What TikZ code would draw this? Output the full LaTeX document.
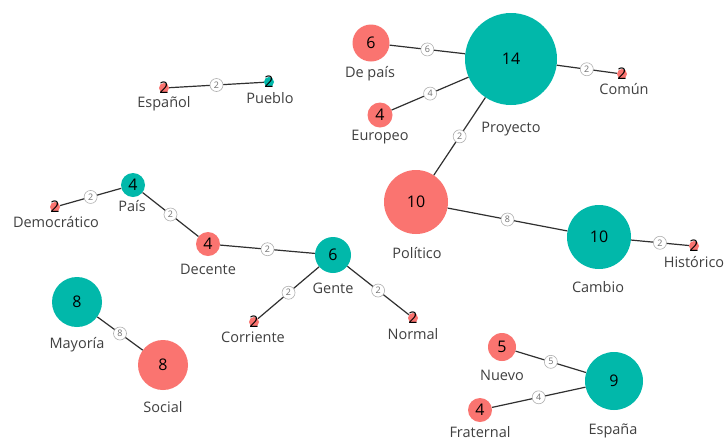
\documentclass[tikz,border=0pt]{standalone}
\usepackage{fontspec}
\setmainfont{Open Sans}
\definecolor{bubteal}{HTML}{01B8AA}
\definecolor{bubsalmon}{HTML}{FA7470}
\definecolor{wordgray}{HTML}{404040}
\definecolor{linkgray}{HTML}{303030}
\definecolor{badgeedge}{HTML}{B0B0B0}
\definecolor{badgetext}{HTML}{707070}
\begin{document}
\begin{tikzpicture}[x=1pt,y=-1pt,
  bubble/.style={circle, inner sep=0pt, minimum size=#1, draw=none},
  tb/.style={bubble=#1, fill=bubteal},
  sb/.style={bubble=#1, fill=bubsalmon},
  val/.style={label={[font=\fontsize{16}{18}\selectfont, text=black, inner sep=0pt]center:#1}},
  word/.style={text=wordgray, font=\fontsize{14.5}{16}\selectfont, inner sep=0pt},
  link/.style={draw=linkgray, line width=1.2pt},
  badge/.style={circle, draw=badgeedge, fill=white, line width=0.6pt, inner sep=0pt,
    minimum size=13pt, font=\fontsize{9}{10}\selectfont, text=badgetext}]
\fill[white] (0,0) rectangle (725,440);
\useasboundingbox (0,0) rectangle (725,440);

% bubbles
\node[tb=92, val=14] (proy)    at (511,59)  {};
\node[sb=37, val=6]  (depais)  at (371,43)  {};
\node[sb=25, val=4]  (euro)    at (380,115) {};
\node[sb=10, val=2]  (comun)   at (622,74)  {};
\node[sb=64, val=10] (polit)   at (416,202) {};
\node[tb=64, val=10] (cambio)  at (599,237) {};
\node[sb=10, val=2]  (hist)    at (694,246) {};
\node[sb=10, val=2]  (espanol) at (164,88)  {};
\node[tb=10, val=2]  (pueblo)  at (269,82)  {};
\node[sb=10, val=2]  (demo)    at (55,207)  {};
\node[tb=24, val=4]  (pais)    at (133,185) {};
\node[sb=24, val=4]  (decente) at (208,244) {};
\node[tb=36, val=6]  (gente)   at (333,255) {};
\node[sb=10, val=2]  (corr)    at (254,322) {};
\node[sb=10, val=2]  (normal)  at (413,318) {};
\node[tb=50, val=8]  (mayoria) at (77,302)  {};
\node[sb=50, val=8]  (social)  at (163,365) {};
\node[sb=28, val=5]  (nuevo)   at (502,347) {};
\node[sb=24, val=4]  (frat)    at (480,410) {};
\node[tb=58, val=9]  (espana)  at (614,381) {};

% word labels
\node[word] (wespanol) at (164,104) {Español};
\node[word] (wpueblo)  at (270,98)  {Pueblo};
\node[word] (wdepais)  at (370,74)  {De país};
\node[word] (weuro)    at (380,137) {Europeo};
\node[word] (wproy)    at (511,129) {Proyecto};
\node[word] (wcomun)   at (624,89)  {Común};
\node[word] (wpolit)   at (417,253) {Político};
\node[word] (wcambio)  at (598,287) {Cambio};
\node[word] (whist)    at (694,262) {Histórico};
\node[word] (wdemo)    at (56,222)  {Democrático};
\node[word] (wpais)    at (132,206) {País};
\node[word] (wdecente) at (208,269) {Decente};
\node[word] (wgente)   at (333,288) {Gente};
\node[word] (wcorr)    at (253,337) {Corriente};
\node[word] (wnormal)  at (413,334) {Normal};
\node[word] (wmayoria) at (77,345)  {Mayoría};
\node[word] (wsocial)  at (163,407) {Social};
\node[word] (wnuevo)   at (502,375) {Nuevo};
\node[word] (wfrat)    at (480,432) {Fraternal};
\node[word] (wespana)  at (613,431) {España};

% links with weights
\draw[link] (espanol) -- node[badge]{2} (pueblo);
\draw[link] (depais)  -- node[badge]{6} (proy);
\draw[link] (euro)    -- node[badge]{4} (proy);
\draw[link] (proy)    -- node[badge]{2} (comun);
\draw[link] (proy)    -- node[badge]{2} (polit);
\draw[link] (polit)   -- node[badge]{8} (cambio);
\draw[link] (cambio)  -- node[badge]{2} (hist);
\draw[link] (demo)    -- node[badge]{2} (pais);
\draw[link] (pais)    -- node[badge]{2} (decente);
\draw[link] (decente) -- node[badge]{2} (gente);
\draw[link] (gente)   -- node[badge]{2} (corr);
\draw[link] (gente)   -- node[badge]{2} (normal);
\draw[link] (mayoria) -- node[badge]{8} (social);
\draw[link] (nuevo)   -- node[badge]{5} (espana);
\draw[link] (frat)    -- node[badge]{4} (espana);
\end{tikzpicture}
\end{document}
